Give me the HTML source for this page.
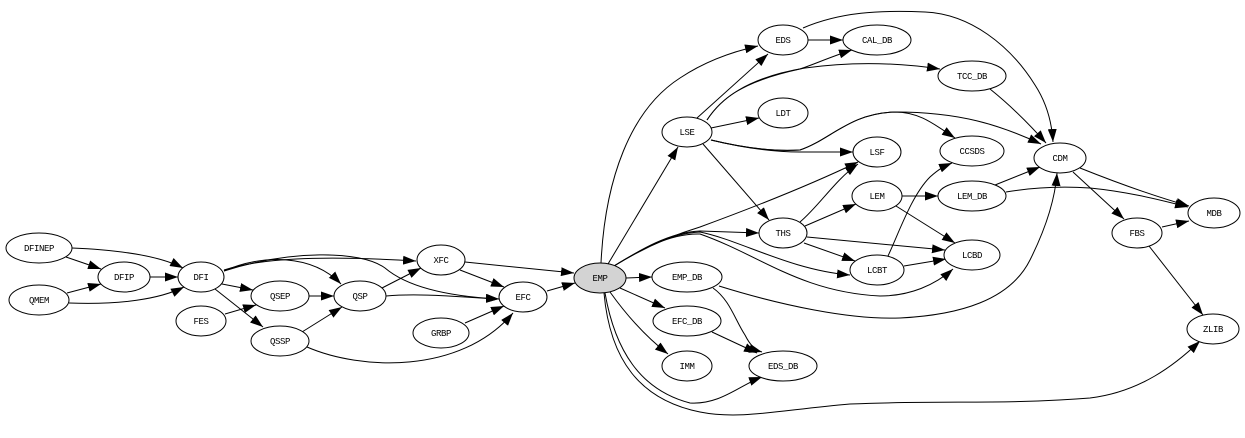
<!DOCTYPE html>
<html><head><meta charset="utf-8"><style>
html,body{margin:0;padding:0;background:#fff;}
svg{display:block;}
text{font-family:"Liberation Mono",monospace;font-size:9px;letter-spacing:-0.4px;fill:#000;}
</style></head><body>
<svg width="1245" height="438" viewBox="0 0 1245 438" xmlns="http://www.w3.org/2000/svg">
<defs>
<marker id="a" markerWidth="13" markerHeight="9" refX="13" refY="4.5" orient="auto" markerUnits="userSpaceOnUse"><path d="M0,0 L13,4.5 L0,9 z" fill="#000"/></marker>
</defs>
<g fill="none" stroke="#000" stroke-width="1" marker-end="url(#a)">
<path d="M66,257 L101,269"/>
<path d="M72,248 C120,250 160,256 183,268"/>
<path d="M67,293 L101,284"/>
<path d="M69,303 C120,305 160,299 184,287"/>
<path d="M150,277 L178,277"/>
<path d="M222,284 L253,290"/>
<path d="M215,289 L263,327"/>
<path d="M225,314 L256,305"/>
<path d="M224,271 C262,254 312,254 341,284"/>
<path d="M224,270 C270,255 350,257 416,261"/>
<path d="M224,271 C290,250 360,250 385,268 C405,285 440,296 499,299"/>
<path d="M309,296 L334,296"/>
<path d="M302,332 L342,307"/>
<path d="M307,347 C360,370 460,375 513,313"/>
<path d="M382,288 L421,268"/>
<path d="M386,296 C420,293 460,297 499,299"/>
<path d="M460,270 L504,287"/>
<path d="M465,262 L574,273"/>
<path d="M465,323 L504,306"/>
<path d="M547,291 L575,283"/>
<path d="M608,264 L678,147"/>
<path d="M601,263 C605,180 630,110 680,78 C710,58 740,50 758,46"/>
<path d="M626,278 L652,277"/>
<path d="M620,288 L665,308"/>
<path d="M610,292 C630,320 650,340 668,354"/>
<path d="M605,293 C615,350 640,390 690,403 C720,405 740,385 762,377"/>
<path d="M604,293 C610,360 640,400 700,412 C740,420 780,410 850,404 C950,400 1000,405 1090,398 C1140,392 1175,365 1200,341"/>
<path d="M713,288 C730,300 735,320 745,335 C750,345 755,350 762,352"/>
<path d="M712,332 L757,353"/>
<path d="M719,286 C780,305 850,320 900,318 C960,315 1010,300 1030,260 C1045,230 1055,200 1057,173"/>
<path d="M614,266 C640,250 670,236 700,227 C760,205 810,185 858,162"/>
<path d="M614,266 C640,250 670,232 700,231 L759,233"/>
<path d="M614,266 C640,250 670,233 700,232 C740,240 790,270 850,275"/>
<path d="M614,266 C640,250 670,233 700,234 C760,255 800,292 880,296 C910,296 935,285 953,269"/>
<path d="M697,118 L768,54"/>
<path d="M707,120 C720,100 740,82 800,69 C815,64 830,57 852,50"/>
<path d="M707,120 C720,100 745,78 805,68 C855,61 900,63 940,69"/>
<path d="M711,128 L759,118"/>
<path d="M711,140 C740,147 770,152 800,152 L853,152"/>
<path d="M711,140 C740,147 770,152 800,150 C830,140 850,113 895,112 C920,112 935,125 955,138"/>
<path d="M711,140 C740,147 770,152 800,150 C830,140 850,113 895,112 C960,112 1000,125 1041,144"/>
<path d="M703,144 L769,220"/>
<path d="M800,222 C820,205 835,180 858,164"/>
<path d="M805,226 L856,204"/>
<path d="M807,237 L945,250"/>
<path d="M804,243 L855,261"/>
<path d="M902,196 L938,196"/>
<path d="M896,206 L955,243"/>
<path d="M888,256 C900,230 912,195 930,177 C940,168 945,166 952,163"/>
<path d="M904,266 L946,259"/>
<path d="M995,185 L1040,167"/>
<path d="M1006,192 C1030,188 1060,186 1090,188 C1130,192 1160,200 1188,207"/>
<path d="M1080,168 C1110,180 1150,195 1189,206"/>
<path d="M1073,172 L1124,219"/>
<path d="M1162,227 L1189,221"/>
<path d="M1149,246 L1203,315"/>
<path d="M808,40 L843,40"/>
<path d="M803,28 C840,12 880,10 925,12 C970,14 1010,45 1035,85 C1048,105 1052,125 1053,142"/>
<path d="M990,89 C1010,105 1030,125 1046,143"/>
</g>
<g stroke="#000" stroke-width="1" fill="#fff">
<ellipse cx="39" cy="248" rx="33" ry="15"/>
<ellipse cx="39" cy="300" rx="30" ry="15"/>
<ellipse cx="124" cy="277" rx="26" ry="15"/>
<ellipse cx="201" cy="277" rx="23" ry="15"/>
<ellipse cx="280" cy="296" rx="29" ry="15"/>
<ellipse cx="201" cy="321" rx="25" ry="15"/>
<ellipse cx="280" cy="341" rx="29" ry="15"/>
<ellipse cx="360" cy="296" rx="26" ry="15"/>
<ellipse cx="441" cy="260" rx="24" ry="15"/>
<ellipse cx="523" cy="297" rx="24" ry="15"/>
<ellipse cx="441" cy="333" rx="28" ry="15"/>
<ellipse cx="600" cy="278" rx="26" ry="15" fill="#d3d3d3"/>
<ellipse cx="687" cy="277" rx="35" ry="15"/>
<ellipse cx="687" cy="321" rx="34" ry="15"/>
<ellipse cx="687" cy="366" rx="25" ry="15"/>
<ellipse cx="783" cy="366" rx="34" ry="15"/>
<ellipse cx="687" cy="132" rx="25" ry="15"/>
<ellipse cx="783" cy="40" rx="25" ry="15"/>
<ellipse cx="877" cy="40" rx="34" ry="15"/>
<ellipse cx="783" cy="113" rx="25" ry="15"/>
<ellipse cx="877" cy="152" rx="24" ry="15"/>
<ellipse cx="972" cy="76" rx="34" ry="15"/>
<ellipse cx="972" cy="151" rx="32" ry="15"/>
<ellipse cx="1060" cy="158" rx="26" ry="15"/>
<ellipse cx="877" cy="196" rx="25" ry="15"/>
<ellipse cx="972" cy="196" rx="34" ry="15"/>
<ellipse cx="783" cy="233" rx="24" ry="15"/>
<ellipse cx="972" cy="255" rx="28" ry="15"/>
<ellipse cx="877" cy="270" rx="27" ry="15"/>
<ellipse cx="1214" cy="213" rx="26" ry="15"/>
<ellipse cx="1137" cy="233" rx="25" ry="15"/>
<ellipse cx="1213" cy="329" rx="26" ry="15"/>
</g>
<g text-anchor="middle">
<text x="39" y="251">DFINEP</text>
<text x="39" y="303">QMEM</text>
<text x="124" y="280">DFIP</text>
<text x="201" y="280">DFI</text>
<text x="280" y="299">QSEP</text>
<text x="201" y="324">FES</text>
<text x="280" y="344">QSSP</text>
<text x="360" y="299">QSP</text>
<text x="441" y="263">XFC</text>
<text x="523" y="300">EFC</text>
<text x="441" y="336">GRBP</text>
<text x="600" y="281">EMP</text>
<text x="687" y="280">EMP_DB</text>
<text x="687" y="324">EFC_DB</text>
<text x="687" y="369">IMM</text>
<text x="783" y="369">EDS_DB</text>
<text x="687" y="135">LSE</text>
<text x="783" y="43">EDS</text>
<text x="877" y="43">CAL_DB</text>
<text x="783" y="116">LDT</text>
<text x="877" y="155">LSF</text>
<text x="972" y="79">TCC_DB</text>
<text x="972" y="154">CCSDS</text>
<text x="1060" y="161">CDM</text>
<text x="877" y="199">LEM</text>
<text x="972" y="199">LEM_DB</text>
<text x="783" y="236">THS</text>
<text x="972" y="258">LCBD</text>
<text x="877" y="273">LCBT</text>
<text x="1214" y="216">MDB</text>
<text x="1137" y="236">FBS</text>
<text x="1213" y="332">ZLIB</text>
</g>
</svg>
</body></html>
